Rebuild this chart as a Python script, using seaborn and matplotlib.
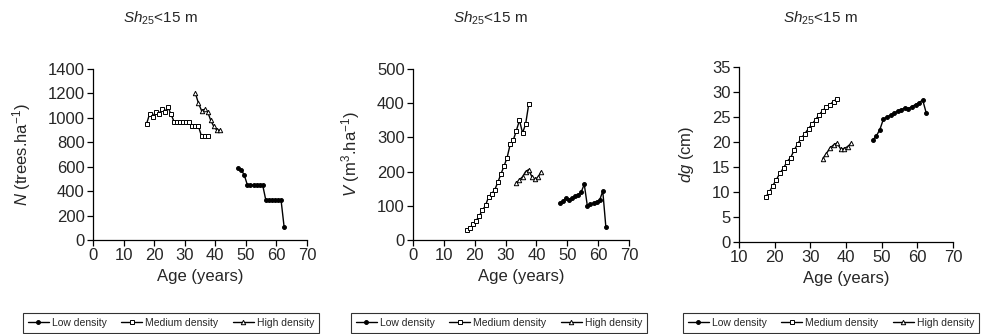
import numpy as np
import pandas as pd
import seaborn as sns
import matplotlib.pyplot as plt

# ages (years)
age_low = [47.5, 48.5, 49.5, 50.5, 51.5, 52.5, 53.5, 54.5, 55.5, 56.5, 57.5, 58.5, 59.5, 60.5, 61.5, 62.5]
age_med = [17.5, 18.5, 19.5, 20.5, 21.5, 22.5, 23.5, 24.5, 25.5, 26.5, 27.5, 28.5, 29.5, 30.5,
           31.5, 32.5, 33.5, 34.5, 35.5, 36.5, 37.5]
age_high = [33.5, 34.5, 35.5, 36.5, 37.5, 38.5, 39.5, 40.5, 41.5]

# N (trees/ha)
n_low = [590, 575, 530, 450, 450, 450, 450, 450, 450, 330, 330, 330, 330, 330, 330, 110]
n_med = [950, 1030, 1010, 1050, 1030, 1070, 1050, 1090, 1030, 970, 970, 970, 970, 970,
         970, 930, 930, 930, 850, 850, 850]
n_high = [1200, 1120, 1060, 1070, 1050, 980, 930, 900, 900]

# V (m3/ha)
v_low = [107, 113, 122, 118, 123, 128, 133, 140, 163, 100, 104, 108, 112, 117, 143, 38]
v_med = [28, 36, 46, 57, 71, 87, 101, 126, 135, 147, 169, 193, 216, 241, 280, 292, 320,
         350, 313, 339, 397]
v_high = [167, 176, 185, 200, 206, 185, 178, 183, 200]

# dg (cm)
dg_low = [20.4, 21.2, 22.5, 24.6, 25.0, 25.4, 25.8, 26.2, 26.5, 26.8, 26.7, 27.1, 27.5,
          27.9, 28.4, 25.8]
dg_med = [9.0, 10.0, 11.3, 12.5, 13.8, 14.8, 16.1, 16.9, 18.4, 19.7, 20.8, 21.7, 22.7,
          23.6, 24.5, 25.5, 26.3, 27.0, 27.5, 28.1, 28.7]
dg_high = [16.7, 17.7, 18.8, 19.4, 19.8, 18.6, 18.7, 19.1, 19.8]

sns.set_style('ticks')
plt.rcParams['font.family'] = ['Liberation Sans', 'DejaVu Sans']
plt.rcParams['mathtext.fontset'] = 'custom'
plt.rcParams['mathtext.rm'] = 'Liberation Sans'
plt.rcParams['mathtext.it'] = 'Liberation Sans:italic'

series = [
    ('Low density', age_low, 'o', 'black'),
    ('Medium density', age_med, 's', 'white'),
    ('High density', age_high, '^', 'white'),
]

panels = [
    ([n_low, n_med, n_high], r'$\it{N}$ (trees.ha$^{-1}$)', (0, 1400), 200, (0, 70), 33),
    ([v_low, v_med, v_high], r'$\it{V}$ (m$^{3}$.ha$^{-1}$)', (0, 500), 100, (0, 70), 362),
    ([dg_low, dg_med, dg_high], r'$\it{dg}$ (cm)', (0, 35), 5, (10, 70), 696),
]

W, H = 992, 334
fig = plt.figure(figsize=(W / 100, H / 100), dpi=100)
lefts = [93, 413, 739]
widths = [214, 216, 214]
title_x = [160, 490, 820]
legend_x = [171, 499, 831]

for i, (vals, ylab, ylim, ystep, xlim, ylab_x) in enumerate(panels):
    bottom = 240 if i < 2 else 242
    top = 69 if i < 2 else 67
    ax = fig.add_axes([lefts[i] / W, 1 - bottom / H, widths[i] / W, (bottom - top) / H])
    for (name, ages, mk, fc), y in zip(series, vals):
        df = pd.DataFrame({'age': ages, 'val': y})
        sns.lineplot(data=df, x='age', y='val', ax=ax, color='black', lw=1,
                     marker=mk, markersize=2.8 if mk != '^' else 3.2, markerfacecolor=fc,
                     markeredgecolor='black', markeredgewidth=0.7, label=name)
    ax.set_xlim(*xlim)
    ax.set_ylim(*ylim)
    ax.set_xticks(np.arange(xlim[0], xlim[1] + 1, 10))
    ax.set_yticks(np.arange(ylim[0], ylim[1] + ystep, ystep))
    sns.despine(ax=ax)
    for s in ['left', 'bottom']:
        ax.spines[s].set_color('black')
        ax.spines[s].set_linewidth(0.9)
    ax.tick_params(labelsize=12, length=4, width=0.9, color='black', pad=2)
    ax.set_xlabel('Age (years)', fontsize=12, labelpad=4)
    ax.set_ylabel(ylab, fontsize=12)
    ax.yaxis.set_label_coords((ylab_x - lefts[i]) / widths[i], 0.5)
    ax.legend(loc='center', bbox_to_anchor=(legend_x[i] / W, 1 - 323 / H),
              bbox_transform=fig.transFigure, ncol=3, fontsize=7.5, frameon=True,
              fancybox=False, edgecolor='black', handlelength=2.0, handletextpad=0.3,
              columnspacing=1.4, borderpad=0.5, markerscale=1.0)
    ax.get_legend().get_frame().set_linewidth(0.8)
    fig.text(title_x[i] / W, 1 - 18 / H, r'$\it{Sh}_{\rm 25}$<15 m', fontsize=11,
             ha='center', va='center')

fig.savefig('out.png', dpi=100)
